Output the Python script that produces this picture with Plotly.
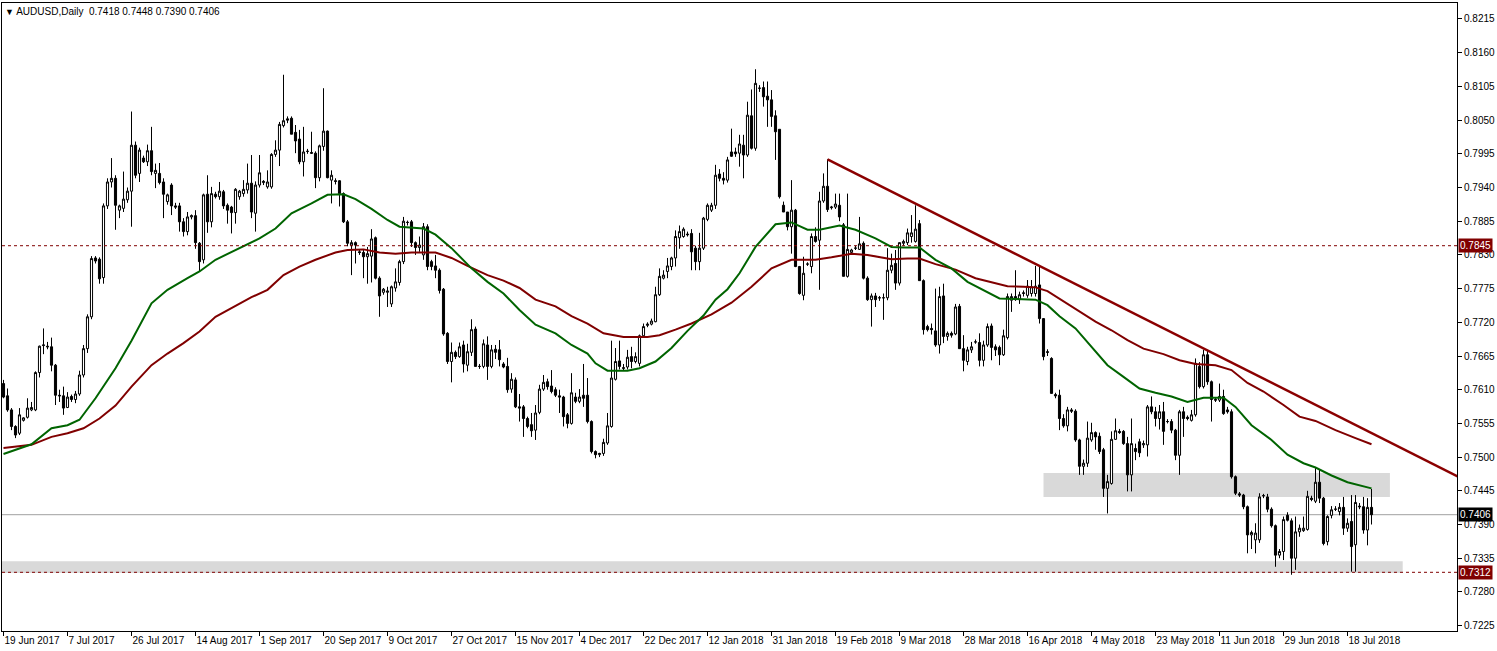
import plotly.graph_objects as go

# ---- daily candles (one value per bar, bar 0 = 19 Jun 2017) ----
opens = [
 .7620,.7600,.7577,.7550,.7539,.7560,.7565,.7577,.7577,.7638,
 .7682,.7681,.7680,.7650,.7601,.7600,.7581,.7599,.7594,.7603,
 .7634,.7677,.7729,.7825,.7823,.7793,.7910,.7949,.7955,.7903,
 .7906,.7920,.7934,.8009,.7963,.7988,.7982,.8000,.7963,.7963,
 .7949,.7917,.7944,.7910,.7910,.7884,.7868,.7892,.7894,.7849,
 .7822,.7929,.7884,.7929,.7925,.7933,.7911,.7908,.7899,.7925,
 .7930,.7936,.7947,.7898,.7944,.7948,.7941,.7941,.7994,.8001,
 .8041,.8052,.8053,.8030,.8019,.7982,.7999,.7997,.7996,.7956,
 .8007,.8032,.7952,.7951,.7951,.7930,.7884,.7846,.7850,.7835,
 .7834,.7827,.7828,.7858,.7792,.7769,.7769,.7750,.7776,.7785,
 .7819,.7883,.7884,.7850,.7842,.7830,.7876,.7819,.7812,.7805,
 .7774,.7702,.7656,.7671,.7664,.7683,.7650,.7671,.7709,.7648,
 .7648,.7683,.7648,.7676,.7675,.7652,.7648,.7611,.7626,.7582,
 .7582,.7563,.7553,.7544,.7573,.7611,.7623,.7616,.7610,.7600,
 .7598,.7569,.7555,.7598,.7591,.7601,.7601,.7558,.7509,.7504,
 .7506,.7523,.7550,.7627,.7657,.7646,.7647,.7664,.7656,.7653,
 .7698,.7715,.7717,.7721,.7765,.7792,.7803,.7811,.7825,.7858,
 .7860,.7864,.7865,.7841,.7819,.7841,.7888,.7903,.7911,.7962,
 .7955,.7952,.7998,.7998,.7996,.8009,.7993,.8057,.8004,.8102,
 .8103,.8089,.8083,.8057,.8035,.7911,.7900,.7876,.7903,.7811,
 .7764,.7815,.7811,.7860,.7854,.7918,.7942,.7907,.7908,.7911,
 .7879,.7795,.7834,.7841,.7839,.7849,.7792,.7757,.7763,.7760,
 .7760,.7760,.7805,.7816,.7784,.7849,.7850,.7860,.7852,.7881,
 .7788,.7713,.7710,.7706,.7683,.7763,.7697,.7702,.7701,.7746,
 .7677,.7656,.7675,.7688,.7687,.7658,.7683,.7714,.7680,.7679,
 .7667,.7695,.7756,.7762,.7757,.7767,.7764,.7767,.7767,.7781,
 .7726,.7672,.7661,.7602,.7601,.7563,.7551,.7577,.7575,.7528,
 .7485,.7490,.7528,.7540,.7534,.7512,.7449,.7457,.7529,.7542,
 .7542,.7522,.7471,.7514,.7525,.7520,.7520,.7582,.7574,.7563,
 .7574,.7558,.7558,.7544,.7503,.7574,.7565,.7560,.7569,.7648,
 .7615,.7667,.7623,.7594,.7593,.7599,.7577,.7574,.7468,.7440,
 .7438,.7419,.7373,.7365,.7365,.7437,.7435,.7415,.7388,.7340,
 .7346,.7405,.7396,.7335,.7378,.7380,.7382,.7433,.7428,.7459,
 .7433,.7362,.7405,.7415,.7411,.7418,.7384,.7395,.7357,.7420,
 .7419,.7381,.7418]
highs = [
 .7626,.7612,.7580,.7552,.7580,.7565,.7596,.7590,.7640,.7682,
 .7710,.7688,.7695,.7652,.7610,.7615,.7606,.7602,.7608,.7641,
 .7683,.7733,.7828,.7828,.7826,.7914,.7955,.7988,.7960,.7912,
 .7966,.7940,.8064,.8015,.8005,.7992,.8010,.8039,.7979,.7980,
 .7955,.7930,.7947,.7915,.7915,.7890,.7900,.7896,.7903,.7851,
 .7930,.7960,.7941,.7933,.7949,.7936,.7914,.7910,.7939,.7936,
 .7952,.7979,.7993,.7950,.7993,.7952,.7968,.7996,.8017,.8047,
 .8124,.8056,.8056,.8042,.8034,.8039,.8003,.8031,.7999,.8010,
 .8102,.8033,.7968,.7955,.7952,.7932,.7887,.7854,.7852,.7838,
 .7838,.7843,.7872,.7860,.7795,.7776,.7778,.7780,.7808,.7822,
 .7892,.7886,.7887,.7852,.7860,.7882,.7880,.7822,.7830,.7808,
 .7776,.7704,.7687,.7674,.7687,.7690,.7685,.7725,.7713,.7652,
 .7692,.7697,.7683,.7683,.7691,.7655,.7662,.7637,.7630,.7603,
 .7585,.7566,.7572,.7585,.7618,.7634,.7628,.7642,.7614,.7610,
 .7600,.7572,.7637,.7605,.7611,.7652,.7629,.7560,.7511,.7507,
 .7530,.7572,.7690,.7678,.7690,.7652,.7675,.7680,.7671,.7700,
 .7718,.7720,.7726,.7778,.7808,.7805,.7825,.7827,.7870,.7878,
 .7875,.7868,.7872,.7845,.7866,.7892,.7914,.7915,.7977,.7970,
 .7965,.7990,.8036,.8005,.8026,.8026,.8080,.8100,.8133,.8107,
 .8113,.8113,.8099,.8066,.8035,.7917,.7900,.7952,.7905,.7812,
 .7827,.7818,.7865,.7875,.7933,.7963,.7986,.7910,.7930,.7930,
 .7882,.7930,.7840,.7845,.7892,.7852,.7795,.7767,.7768,.7763,
 .7767,.7841,.7832,.7838,.7850,.7855,.7873,.7895,.7911,.7887,
 .7790,.7716,.7718,.7775,.7778,.7783,.7705,.7705,.7750,.7750,
 .7699,.7680,.7688,.7692,.7702,.7690,.7718,.7718,.7684,.7682,
 .7708,.7767,.7767,.7805,.7770,.7772,.7789,.7789,.7812,.7811,
 .7727,.7676,.7663,.7605,.7610,.7570,.7582,.7580,.7578,.7530,
 .7496,.7558,.7556,.7542,.7540,.7515,.7471,.7542,.7563,.7546,
 .7544,.7533,.7563,.7522,.7530,.7527,.7585,.7599,.7582,.7585,
 .7590,.7562,.7562,.7546,.7577,.7582,.7568,.7577,.7661,.7655,
 .7675,.7675,.7625,.7597,.7620,.7610,.7582,.7578,.7470,.7443,
 .7440,.7421,.7380,.7392,.7441,.7440,.7440,.7418,.7390,.7350,
 .7403,.7410,.7400,.7403,.7390,.7403,.7445,.7437,.7482,.7479,
 .7435,.7405,.7420,.7420,.7425,.7435,.7400,.7438,.7438,.7425,
 .7435,.7433,.7448]
lows = [
 .7596,.7574,.7544,.7531,.7536,.7558,.7563,.7575,.7575,.7630,
 .7668,.7676,.7640,.7585,.7590,.7569,.7580,.7590,.7588,.7600,
 .7630,.7670,.7725,.7816,.7783,.7783,.7905,.7940,.7871,.7890,
 .7900,.7915,.7876,.7955,.7949,.7980,.7975,.7960,.7939,.7945,
 .7890,.7912,.7895,.7905,.7868,.7860,.7862,.7888,.7840,.7803,
 .7816,.7866,.7875,.7922,.7920,.7905,.7881,.7865,.7881,.7920,
 .7925,.7930,.7890,.7868,.7940,.7944,.7938,.7938,.7990,.7975,
 .8038,.8045,.8027,.7996,.7978,.7958,.7995,.7995,.7939,.7950,
 .8000,.7955,.7914,.7945,.7909,.7882,.7844,.7797,.7816,.7830,
 .7792,.7783,.7785,.7790,.7729,.7765,.7745,.7745,.7770,.7780,
 .7815,.7878,.7843,.7830,.7835,.7822,.7805,.7805,.7792,.7767,
 .7698,.7652,.7622,.7660,.7662,.7638,.7640,.7665,.7648,.7644,
 .7645,.7626,.7645,.7660,.7648,.7645,.7605,.7605,.7580,.7558,
 .7533,.7547,.7533,.7528,.7570,.7608,.7610,.7604,.7598,.7572,
 .7550,.7547,.7553,.7588,.7588,.7582,.7555,.7506,.7498,.7500,
 .7502,.7520,.7548,.7625,.7643,.7642,.7643,.7645,.7653,.7648,
 .7695,.7712,.7715,.7720,.7763,.7790,.7792,.7805,.7811,.7840,
 .7858,.7860,.7805,.7805,.7805,.7838,.7885,.7900,.7905,.7950,
 .7945,.7948,.7990,.7990,.7974,.7955,.7990,.8002,.8000,.8096,
 .8072,.8039,.8039,.7985,.7922,.7900,.7870,.7832,.7810,.7765,
 .7756,.7812,.7800,.7850,.7773,.7915,.7900,.7904,.7905,.7885,
 .7795,.7793,.7830,.7838,.7838,.7790,.7755,.7713,.7745,.7755,
 .7724,.7756,.7800,.7773,.7780,.7845,.7846,.7850,.7850,.7788,
 .7700,.7705,.7700,.7680,.7669,.7686,.7690,.7695,.7699,.7677,
 .7640,.7650,.7670,.7685,.7648,.7648,.7680,.7658,.7665,.7650,
 .7665,.7692,.7737,.7755,.7750,.7762,.7760,.7762,.7762,.7718,
 .7658,.7665,.7604,.7596,.7544,.7548,.7542,.7572,.7525,.7471,
 .7471,.7484,.7525,.7512,.7505,.7435,.7408,.7455,.7528,.7538,
 .7520,.7444,.7444,.7495,.7500,.7515,.7501,.7570,.7550,.7545,
 .7520,.7555,.7539,.7495,.7471,.7533,.7560,.7558,.7566,.7612,
 .7612,.7618,.7558,.7590,.7590,.7569,.7571,.7465,.7438,.7435,
 .7415,.7343,.7350,.7343,.7360,.7433,.7410,.7385,.7321,.7335,
 .7332,.7395,.7308,.7316,.7370,.7378,.7380,.7428,.7425,.7425,
 .7356,.7356,.7400,.7412,.7405,.7373,.7378,.7313,.7313,.7415,
 .7375,.7356,.7390]
closes = [
 .7598,.7577,.7550,.7536,.7569,.7564,.7580,.7581,.7638,.7681,
 .7683,.7680,.7650,.7601,.7600,.7580,.7598,.7594,.7603,.7634,
 .7677,.7729,.7824,.7820,.7791,.7910,.7949,.7955,.7911,.7910,
 .7921,.7934,.8009,.7960,.8001,.7982,.8000,.7966,.7968,.7948,
 .7929,.7928,.7910,.7908,.7884,.7868,.7892,.7894,.7850,.7819,
 .7928,.7884,.7930,.7925,.7934,.7910,.7903,.7899,.7937,.7934,
 .7937,.7947,.7900,.7944,.7964,.7950,.7949,.7994,.8001,.8043,
 .8049,.8050,.8027,.8016,.7982,.7998,.7999,.7996,.7956,.8008,
 .8032,.7956,.7960,.7950,.7930,.7884,.7849,.7850,.7846,.7834,
 .7827,.7832,.7856,.7792,.7763,.7774,.7771,.7778,.7786,.7819,
 .7885,.7883,.7850,.7842,.7846,.7876,.7811,.7811,.7805,.7772,
 .7701,.7656,.7671,.7664,.7680,.7652,.7672,.7708,.7648,.7648,
 .7685,.7648,.7675,.7671,.7659,.7647,.7610,.7627,.7582,.7580,
 .7563,.7550,.7543,.7572,.7611,.7622,.7615,.7607,.7601,.7598,
 .7566,.7555,.7605,.7591,.7598,.7596,.7558,.7509,.7504,.7506,
 .7524,.7551,.7629,.7656,.7648,.7645,.7663,.7656,.7664,.7698,
 .7713,.7717,.7722,.7765,.7795,.7797,.7812,.7825,.7860,.7868,
 .7872,.7863,.7835,.7819,.7841,.7890,.7911,.7911,.7960,.7955,
 .7952,.7985,.7991,.7995,.8011,.7993,.8058,.8004,.8110,.8102,
 .8088,.8083,.8056,.8031,.7925,.7900,.7876,.7903,.7811,.7767,
 .7800,.7815,.7860,.7852,.7918,.7942,.7904,.7908,.7913,.7892,
 .7795,.7839,.7838,.7841,.7848,.7792,.7757,.7763,.7757,.7760,
 .7760,.7805,.7813,.7784,.7850,.7852,.7866,.7866,.7872,.7788,
 .7708,.7708,.7708,.7683,.7762,.7697,.7702,.7699,.7745,.7677,
 .7658,.7675,.7680,.7688,.7658,.7683,.7713,.7679,.7675,.7667,
 .7698,.7762,.7762,.7757,.7765,.7768,.7779,.7778,.7779,.7726,
 .7664,.7671,.7604,.7600,.7563,.7551,.7577,.7575,.7528,.7485,
 .7490,.7531,.7540,.7533,.7509,.7449,.7460,.7529,.7543,.7540,
 .7522,.7471,.7522,.7509,.7507,.7522,.7582,.7574,.7563,.7574,
 .7542,.7558,.7544,.7503,.7574,.7563,.7563,.7569,.7653,.7615,
 .7667,.7623,.7594,.7593,.7599,.7571,.7574,.7468,.7441,.7438,
 .7419,.7373,.7377,.7376,.7435,.7437,.7415,.7388,.7340,.7346,
 .7398,.7397,.7335,.7378,.7384,.7384,.7436,.7431,.7459,.7433,
 .7359,.7403,.7414,.7415,.7418,.7384,.7392,.7354,.7426,.7419,
 .7381,.7418,.7406]

# ---- moving averages (bar index, price) ----
ma_fast_bar = [0, 4, 7, 12, 16, 19, 23, 28, 32, 37, 41, 46, 49, 53, 59, 64, 68, 72, 77, 81,
               85, 88, 92, 96, 99, 105, 108, 112, 117, 121, 125, 129, 133, 138, 142, 146, 148, 151,
               156, 159, 163, 167, 171, 175, 178, 181, 184, 188, 193, 197, 201, 204, 209, 213, 218,
               222, 225, 229, 233, 237, 241, 245, 249, 253, 258, 261, 264, 268, 272, 276, 280, 284,
               288, 292, 296, 300, 305, 308, 312, 317, 321, 325, 328, 332, 336, 339, 342]
ma_fast_val = [.7505, .7514, .7521, .7547, .7552, .7561, .7596, .7645, .7690, .7751, .7773, .7792,
               .7803, .7822, .7841, .7857, .7873, .7898, .7914, .7928, .7929, .7921, .7905, .7887,
               .7876, .7873, .7863, .7841, .7808, .7786, .7767, .7740, .7716, .7702, .7683, .7669,
               .7653, .7641, .7641, .7645, .7656, .7678, .7706, .7731, .7757, .7774, .7800, .7843,
               .7880, .7883, .7871, .7871, .7878, .7871, .7857, .7843, .7842, .7842, .7822, .7808,
               .7786, .7773, .7759, .7758, .7757, .7748, .7730, .7710, .7680, .7650, .7631, .7612,
               .7605, .7599, .7590, .7597, .7597, .7582, .7552, .7528, .7504, .7490, .7483, .7470,
               .7459, .7454, .7449]
ma_slow_bar = [0, 7, 12, 16, 20, 24, 28, 32, 37, 41, 45, 49, 53, 58, 62, 66, 70, 74, 78, 83, 86,
               90, 94, 98, 102, 108, 112, 116, 121, 125, 129, 133, 138, 142, 146, 150, 155, 161,
               164, 168, 172, 177, 182, 187, 192, 197, 203, 207, 212, 216, 222, 226, 229, 233, 238,
               243, 247, 251, 255, 258, 261, 265, 269, 273, 277, 281, 285, 290, 294, 298, 303, 307,
               311, 315, 320, 324, 328, 333, 338, 342]
ma_slow_val = [.7515, .7520, .7533, .7539, .7547, .7563, .7584, .7615, .7650, .7669, .7686, .7705,
               .7729, .7747, .7761, .7773, .7797, .7811, .7822, .7834, .7838, .7839, .7834, .7832,
               .7834, .7834, .7825, .7812, .7797, .7788, .7776, .7757, .7746, .7730, .7718, .7702,
               .7696, .7696, .7699, .7708, .7718, .7733, .7752, .7778, .7808, .7822, .7822, .7826,
               .7832, .7830, .7823, .7824, .7824, .7815, .7806, .7792, .7786, .7779, .7778, .7777,
               .7771, .7754, .7737, .7721, .7707, .7691, .7677, .7668, .7658, .7652, .7650, .7642,
               .7621, .7607, .7585, .7566, .7559, .7544, .7531, .7521]

# ---- drawn objects ----
trend_bar = [206, 364]
trend_val = [.7986, .7467]
zone_x0 = [260, -1]
zone_x1 = [346.6, 349.8]
zone_lo = [.7435, .7311]
zone_hi = [.7474, .7330]
levels = [.7845, .7312]

tick_bars = [0, 16, 32, 48, 64, 80, 96, 112, 128, 144, 160, 176, 192, 208, 224, 240, 256, 272, 288, 304, 320, 336]
tick_text = ["19 Jun 2017", "7 Jul 2017", "26 Jul 2017", "14 Aug 2017", "1 Sep 2017", "20 Sep 2017",
             "9 Oct 2017", "27 Oct 2017", "15 Nov 2017", "4 Dec 2017", "22 Dec 2017", "12 Jan 2018",
             "31 Jan 2018", "19 Feb 2018", "9 Mar 2018", "28 Mar 2018", "16 Apr 2018", "4 May 2018",
             "23 May 2018", "11 Jun 2018", "29 Jun 2018", "18 Jul 2018"]
price_ticks = [0.8215, 0.8160, 0.8105, 0.8050, 0.7995, 0.7940, 0.7885, 0.7830, 0.7775, 0.7720,
               0.7665, 0.7610, 0.7555, 0.7500, 0.7445, 0.7390, 0.7335, 0.7280, 0.7225]

n = len(closes)
bars = list(range(n))

MAROON = "#800000"
FONT = "Liberation Sans"

fig = go.Figure()
fig.add_trace(go.Candlestick(
    x=bars, open=opens, high=highs, low=lows, close=closes,
    increasing=dict(line=dict(color="black", width=1), fillcolor="white"),
    decreasing=dict(line=dict(color="black", width=1), fillcolor="black"),
    whiskerwidth=0, showlegend=False, hoverinfo="skip"))
fig.add_trace(go.Scatter(x=ma_slow_bar, y=ma_slow_val, mode="lines",
                         line=dict(color=MAROON, width=2), showlegend=False, hoverinfo="skip"))
fig.add_trace(go.Scatter(x=ma_fast_bar, y=ma_fast_val, mode="lines",
                         line=dict(color="#006400", width=2), showlegend=False, hoverinfo="skip"))
fig.add_trace(go.Scatter(x=trend_bar, y=trend_val, mode="lines",
                         line=dict(color="#8b0000", width=2.5), showlegend=False, hoverinfo="skip"))

shapes = []
for x0, x1, lo, hi in zip(zone_x0, zone_x1, zone_lo, zone_hi):
    shapes.append(dict(type="rect", xref="x", yref="y", x0=x0, x1=x1, y0=lo, y1=hi,
                       fillcolor="#d9d9d9", line=dict(width=0), layer="below"))
for lv in levels:
    shapes.append(dict(type="line", xref="paper", yref="y", x0=0, x1=1, y0=lv, y1=lv,
                       line=dict(color=MAROON, width=1, dash="3px,3px"), layer="above"))
shapes.append(dict(type="line", xref="paper", yref="y", x0=0, x1=1, y0=closes[-1], y1=closes[-1],
                   line=dict(color="#a0a0a0", width=1), layer="below"))

annotations = []
for lv, bg in [(levels[0], MAROON), (closes[-1], "black"), (levels[1], MAROON)]:
    annotations.append(dict(xref="paper", yref="y", x=1, y=lv, xanchor="left", yanchor="middle",
                            xshift=1, text=f"{lv:.4f}", showarrow=False, bgcolor=bg,
                            font=dict(color="white", size=10, family=FONT),
                            borderpad=1))
annotations.append(dict(xref="paper", yref="paper", x=0, y=1, xanchor="left", yanchor="top",
                        xshift=1, yshift=-1, showarrow=False,
                        text=f"<span style='font-size:9px'>▼</span> AUDUSD,Daily  {opens[-1]:.4f} {highs[-1]:.4f} {lows[-1]:.4f} {closes[-1]:.4f}",
                        font=dict(color="black", size=10, family=FONT)))

fig.update_layout(
    width=1497, height=651,
    margin=dict(l=2, r=40, t=3, b=20, autoexpand=False),
    paper_bgcolor="white", plot_bgcolor="white",
    shapes=shapes, annotations=annotations,
    boxgap=0.25,
    xaxis=dict(range=[-0.375, 363.375], rangeslider=dict(visible=False), showgrid=False,
               zeroline=False, tickvals=tick_bars, ticktext=tick_text, ticks="outside",
               ticklen=4, tickcolor="black", ticklabelposition="outside right", tickangle=0,
               automargin=False,
               tickfont=dict(size=10, family=FONT, color="black"),
               showline=True, linecolor="black", linewidth=1, mirror=True),
    yaxis=dict(range=[0.72162, 0.82411], side="right", showgrid=False, zeroline=False,
               tickvals=price_ticks, ticktext=[f"{p:.4f}" for p in price_ticks],
               ticks="outside", ticklen=4, tickcolor="black", automargin=False,
               tickfont=dict(size=10, family=FONT, color="black"),
               showline=True, linecolor="black", linewidth=1, mirror=True),
)

fig.write_html("out.html", config={"displayModeBar": False},
               post_script="document.body.style.margin='0';document.body.style.overflow='hidden';")
